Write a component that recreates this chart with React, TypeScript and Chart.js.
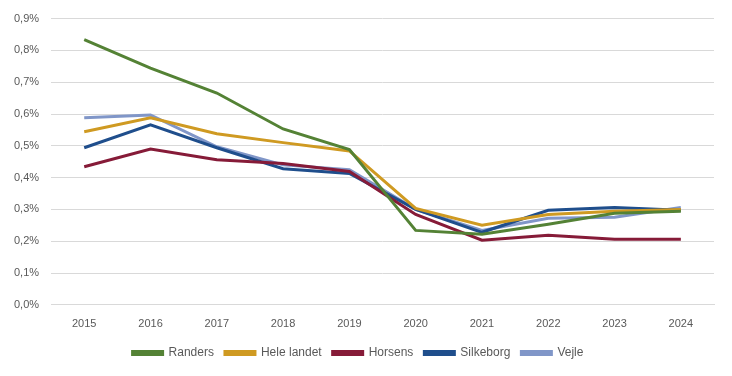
import React, { useEffect, useRef } from "react";
import { Chart, registerables } from "chart.js";

Chart.register(...registerables);

const years = ["2015", "2016", "2017", "2018", "2019", "2020", "2021", "2022", "2023", "2024"];
const randers = [0.834, 0.744, 0.666, 0.553, 0.488, 0.234, 0.222, 0.253, 0.288, 0.294];
const heleLandet = [0.544, 0.588, 0.538, 0.51, 0.484, 0.303, 0.25, 0.284, 0.294, 0.3];
const horsens = [0.434, 0.49, 0.456, 0.444, 0.419, 0.284, 0.203, 0.219, 0.206, 0.206];
const silkeborg = [0.494, 0.566, 0.494, 0.428, 0.413, 0.3, 0.228, 0.297, 0.306, 0.297];
const vejle = [0.588, 0.597, 0.497, 0.44, 0.425, 0.3, 0.234, 0.272, 0.275, 0.306];

const FONT = "'Liberation Sans', Arial, sans-serif";

export default function App() {
  const ref = useRef<HTMLCanvasElement | null>(null);
  useEffect(() => {
    if (!ref.current) return;
    const mk = (label: string, data: number[], color: string) => ({
      label,
      data,
      borderColor: color,
      backgroundColor: color,
      borderWidth: 3,
      pointRadius: 0,
      tension: 0,
      fill: false,
    });
    const chart = new Chart(ref.current, {
      type: "line",
      data: {
        labels: years,
        datasets: [
          mk("Randers", randers, "#548235"),
          mk("Hele landet", heleLandet, "#CF9A22"),
          mk("Horsens", horsens, "#861B38"),
          mk("Silkeborg", silkeborg, "#1F4E8C"),
          mk("Vejle", vejle, "#8096C8"),
        ],
      },
      options: {
        animation: false,
        responsive: false,
        maintainAspectRatio: false,
        layout: { padding: { top: 4, right: 18, left: 2, bottom: 7 } },
        plugins: {
          tooltip: { enabled: false },
          legend: {
            position: "bottom",
            labels: {
              boxWidth: 30,
              boxHeight: 3,
              color: "#595959",
              font: { family: FONT, size: 12 },
              padding: 11,
            },
          },
        },
        scales: {
          x: {
            offset: true,
            grid: { display: false },
            border: { display: true, color: "#d9d9d9" },
            ticks: { color: "#595959", font: { family: FONT, size: 11 }, padding: 5, maxRotation: 0 },
          },
          y: {
            min: 0,
            max: 0.9,
            grid: { color: "#d9d9d9", drawTicks: false },
            border: { display: false },
            ticks: {
              stepSize: 0.1,
              color: "#595959",
              font: { family: FONT, size: 11 },
              padding: 12,
              callback: (v: any) => Number(v).toFixed(1).replace(".", ",") + "%",
            },
          },
        },
      },
    });
    return () => chart.destroy();
  }, []);
  return (
    <div style={{ position: "fixed", left: 0, top: 0, width: 732, height: 376, background: "#fff" }}>
      <canvas ref={ref} width={732} height={376} style={{ width: 732, height: 376 }} />
    </div>
  );
}
